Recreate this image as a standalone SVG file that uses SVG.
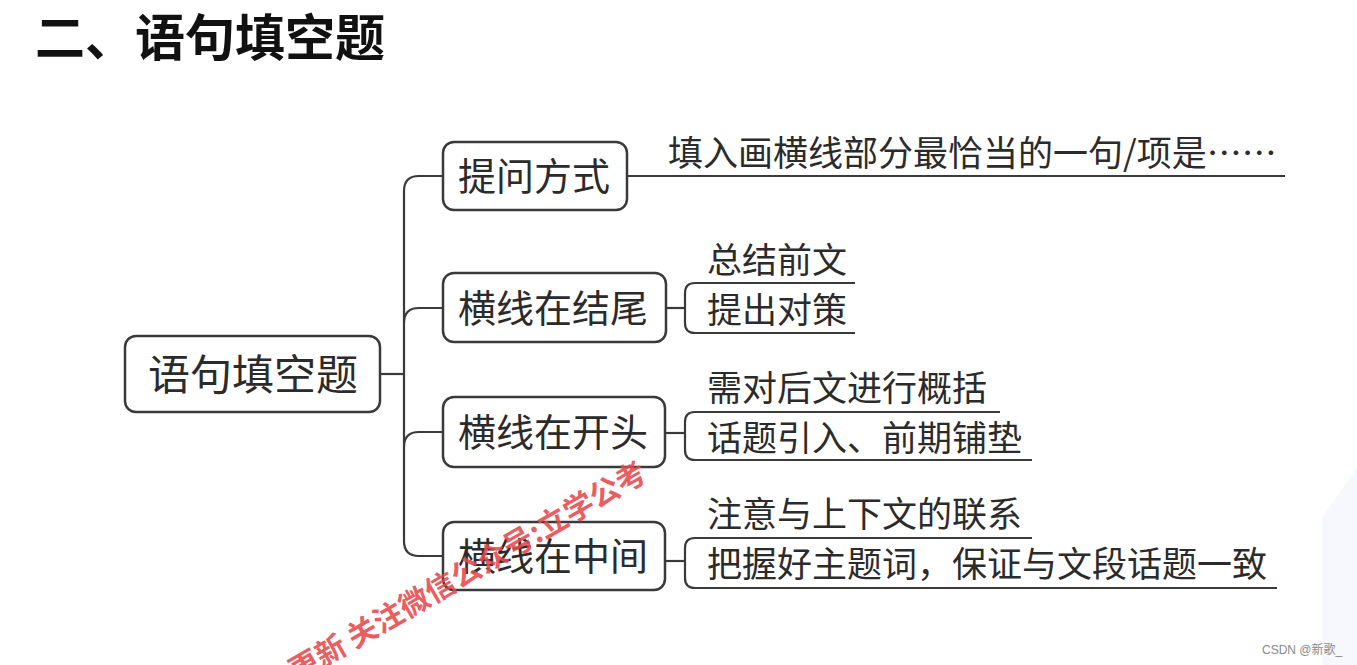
<svg xmlns="http://www.w3.org/2000/svg" width="1357" height="665" viewBox="0 0 1357 665">
<style>
.box{fill:#fff;stroke:#3a3a3a;stroke-width:2.5}
.con{fill:none;stroke:#3a3a3a;stroke-width:2.2}
.t{font-family:"Noto Sans CJK SC","Noto Sans",sans-serif;fill:#2b2b2b}
.bt{font-size:38px}
.lf{font-size:35px}
.wm{font-family:"Noto Sans CJK SC","Noto Sans",sans-serif;fill:#e8484b;fill-opacity:0.88;font-size:30px;font-weight:bold}
</style>
<rect width="1357" height="665" fill="#fff"/>
<polygon points="1357,468 1322,518 1322,665 1357,665" fill="#f6f8fd"/>
<text class="t" x="35" y="56" font-size="50" font-weight="bold" style="fill:#111">二、语句填空题</text>
<g id="connectors">
<path class="con" d="M380,374 H404"/>
<path class="con" d="M443,176 H419 Q404,176 404,191 V541 Q404,556 419,556 H443"/>
<path class="con" d="M404,323 Q404,308 419,308 H443"/>
<path class="con" d="M404,447 Q404,432 419,432 H443"/>
<path class="con" d="M627,176 H1285"/>
<path class="con" d="M666,308 H685"/>
<path class="con" d="M855,283 H695 Q685,283 685,293 V323 Q685,333 695,333 H855"/>
<path class="con" d="M665,433 H685"/>
<path class="con" d="M1000,412 H695 Q685,412 685,422 V450 Q685,460 695,460 H1032"/>
<path class="con" d="M665,561 H685"/>
<path class="con" d="M1032,538 H695 Q685,538 685,548 V578 Q685,588 695,588 H1277"/>
</g>
<g id="root">
<rect class="box" x="125" y="336" width="255" height="76" rx="11"/>
<text class="t" x="148" y="390" font-size="42">语句填空题</text>
</g>
<g id="n1">
<rect class="box" x="443" y="142" width="184" height="68" rx="11"/>
<text class="t bt" x="458" y="190">提问方式</text>
</g>
<g id="n2">
<rect class="box" x="443" y="273" width="223" height="69" rx="11"/>
<text class="t bt" x="458" y="322">横线在结尾</text>
</g>
<g id="n3">
<rect class="box" x="443" y="397" width="222" height="70" rx="11"/>
<text class="t bt" x="458" y="446">横线在开头</text>
</g>
<g id="n4">
<rect class="box" x="443" y="522" width="222" height="68" rx="11"/>
<text class="t bt" x="458" y="570">横线在中间</text>
</g>
<g id="leaf1"><text class="t lf" x="668" y="166">填入画横线部分最恰当的一句/项是……</text></g>
<g id="leaf2"><text class="t lf" x="707" y="273">总结前文</text></g>
<g id="leaf3"><text class="t lf" x="707" y="323">提出对策</text></g>
<g id="leaf4"><text class="t lf" x="707" y="401">需对后文进行概括</text></g>
<g id="leaf5"><text class="t lf" x="707" y="451">话题引入、前期铺垫</text></g>
<g id="leaf6"><text class="t lf" x="707" y="527">注意与上下文的联系</text></g>
<g id="leaf7"><text class="t lf" x="707" y="577">把握好主题词，保证与文段话题一致</text></g>
<text class="wm" transform="translate(649,479) rotate(-30)" text-anchor="end">更新 关注微信公众号:立学公考</text>
<text x="1262" y="654" font-family="Liberation Sans,Noto Sans CJK SC,sans-serif" font-size="12" fill="#8a8a8a">CSDN @新歌_</text>
</svg>
